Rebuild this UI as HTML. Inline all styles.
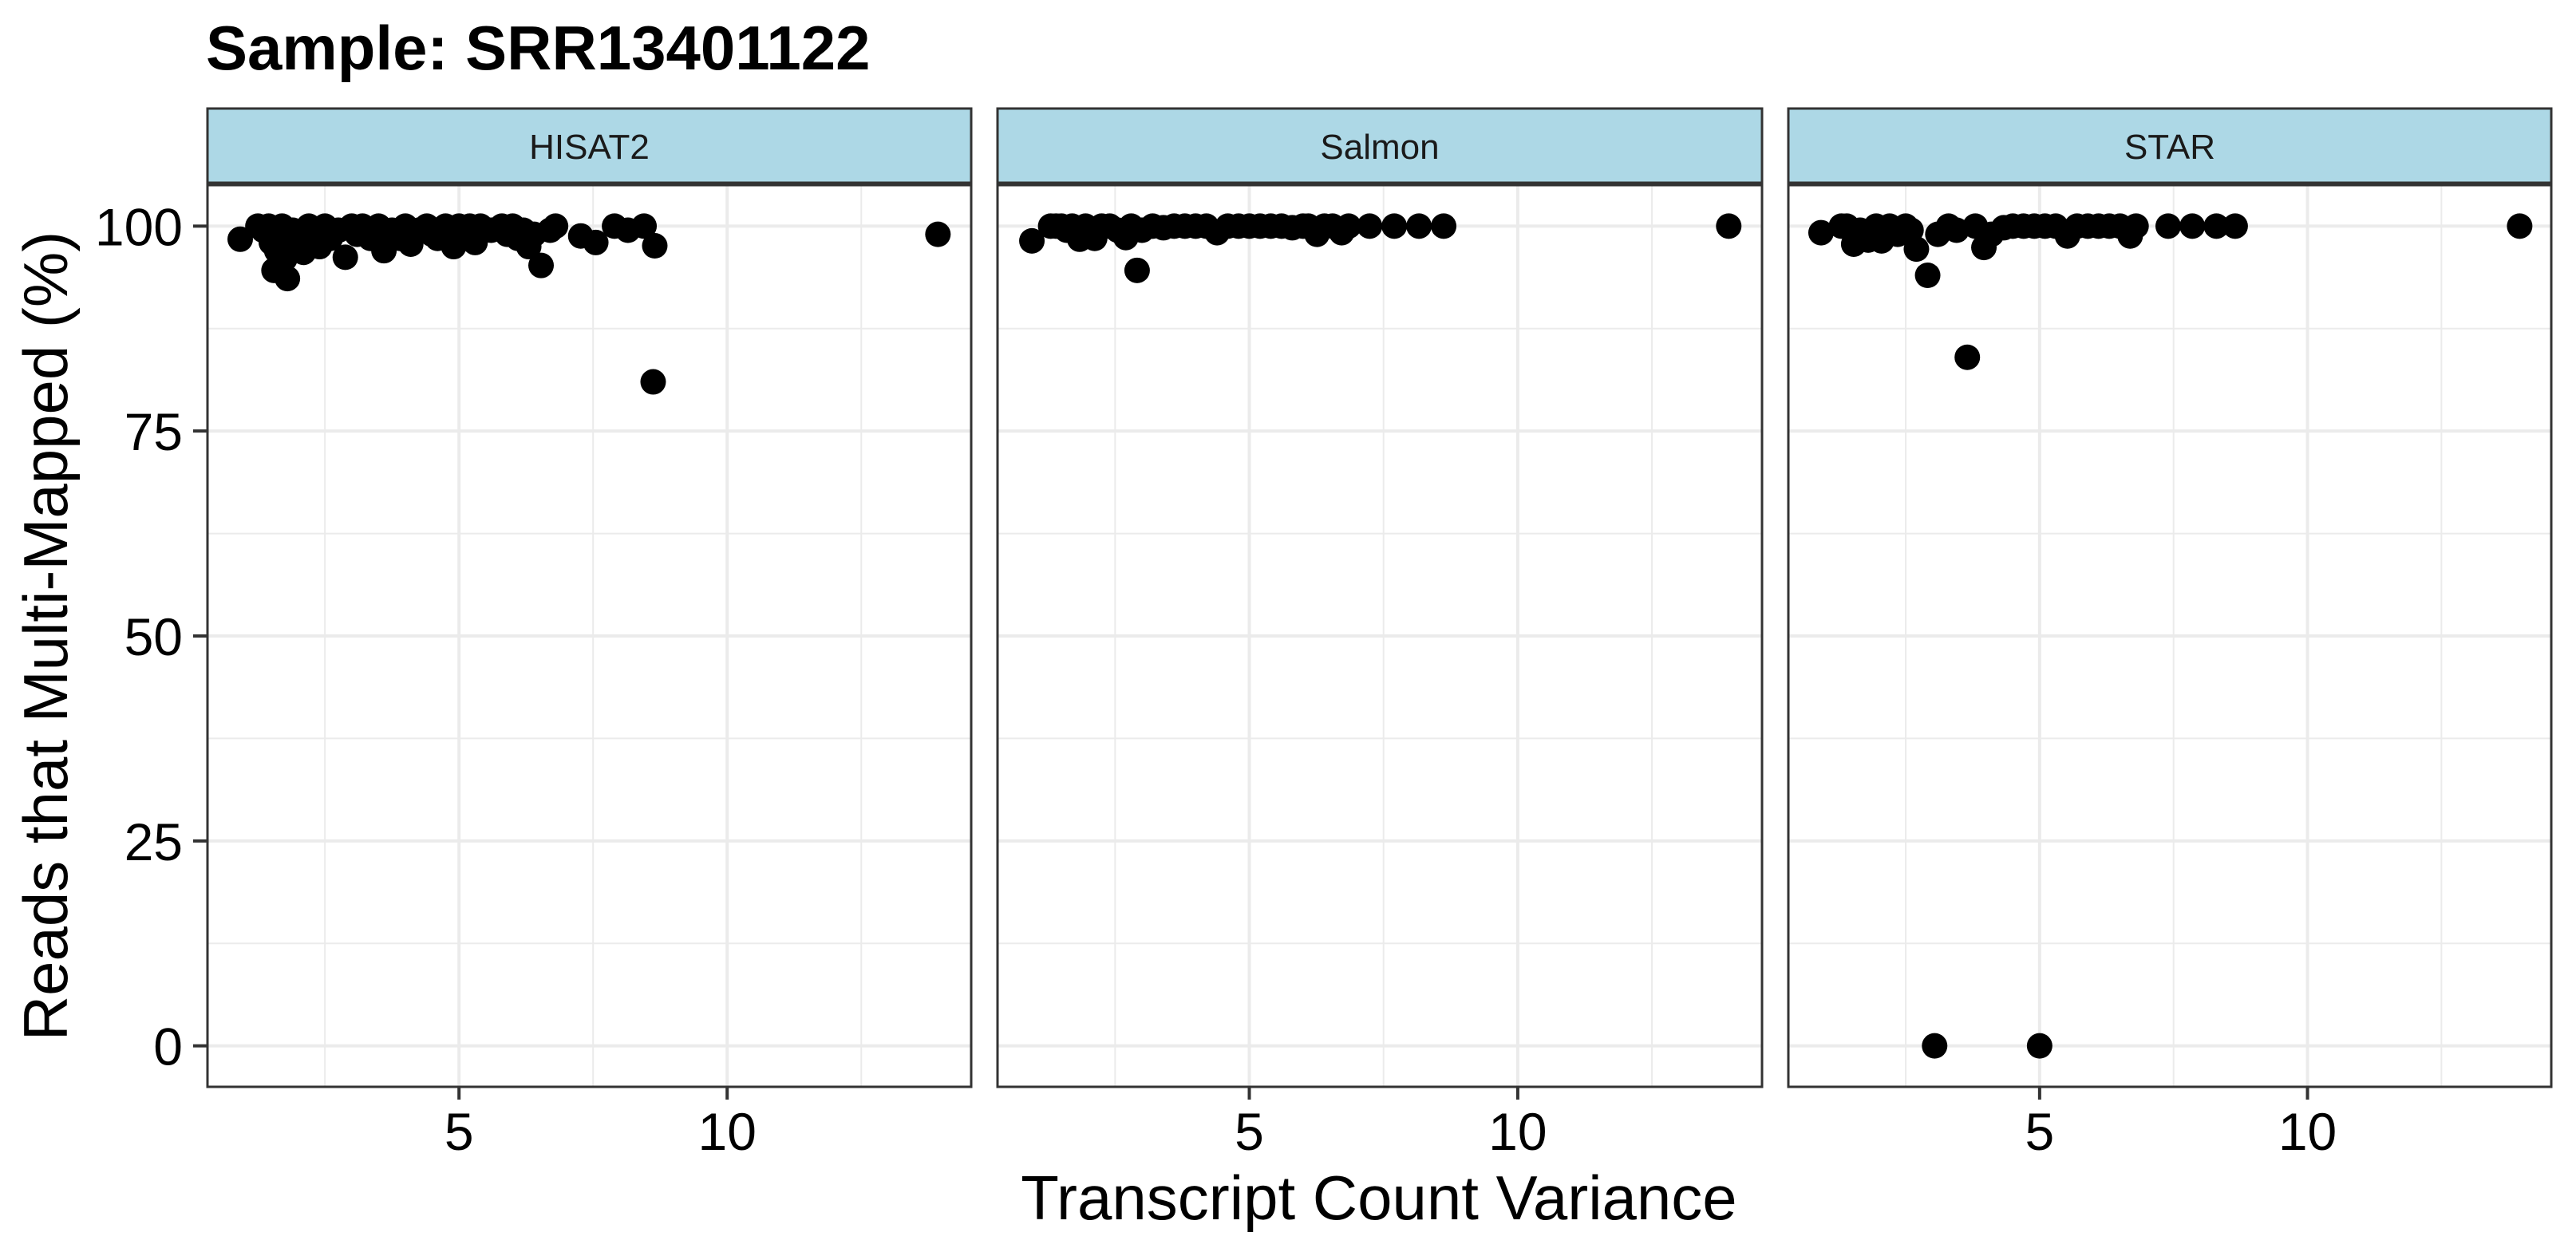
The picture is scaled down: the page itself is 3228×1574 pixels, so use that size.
<!DOCTYPE html>
<html><head><meta charset="utf-8"><style>
html,body{margin:0;padding:0;background:#fff;}
svg{display:block;font-family:"Liberation Sans",Arial,sans-serif;}
</style></head><body>
<svg id="chart" width="3228" height="1574" viewBox="0 0 3228 1574" xmlns="http://www.w3.org/2000/svg">
<text x="258" y="87" font-size="78" font-weight="bold" fill="#000">Sample: SRR13401122</text>
<g id="panels"></g>
<text x="1728" y="1528" font-size="78" text-anchor="middle" fill="#000">Transcript Count Variance</text>
<text transform="translate(84,797) rotate(-90)" font-size="78" text-anchor="middle" fill="#000">Reads that Multi-Mapped (%)</text>
</svg>
<script>
const facets = ["HISAT2","Salmon","STAR"];
const hisatX = [0.92,1.25,1.35,1.45,1.5,1.55,1.6,1.65,1.7,1.75,1.8,1.9,2.0,2.1,2.2,2.3,2.4,2.5,2.6,2.75,2.88,3.0,3.1,3.2,3.35,3.5,3.6,3.75,3.9,4.0,4.1,4.25,4.4,4.5,4.6,4.75,4.9,5.0,5.1,5.2,5.3,5.4,5.6,5.8,5.9,6.0,6.1,6.2,6.3,6.4,6.53,6.7,6.8,7.27,7.55,7.9,8.15,8.45,8.62,8.65,13.93];
const hisatY = [98.4,100,99.5,100,98,94.6,97,99,100,96,93.6,99.5,98,96.8,100,99,97.5,100,98.5,99.5,96.2,100,99,100,98.5,100,97,99.5,98.5,100,97.8,99.5,100,99,98.5,100,97.5,100,99,100,98,100,99.5,100,99,100,98.5,99.5,97.5,99,95.2,99.5,100,98.8,98,100,99.5,100,81,97.6,99];
const salmonX = [0.95,1.3,1.4,1.5,1.6,1.7,1.84,1.95,2.05,2.12,2.25,2.4,2.55,2.7,2.8,2.91,3.0,3.2,3.4,3.6,3.8,4.0,4.2,4.4,4.6,4.8,5.0,5.2,5.4,5.6,5.8,6.0,6.1,6.26,6.4,6.55,6.72,6.85,7.24,7.7,8.16,8.62,13.93];
const salmonY = [98.2,100,100,100,99.5,100,98.4,100,99.5,98.5,100,100,99.5,98.6,100,94.6,99.5,100,99.8,100,100,100,100,99.2,100,100,100,100,100,100,99.8,100,100,99,100,100,99.2,100,100,100,100,100,100];
const starX = [0.92,1.3,1.4,1.53,1.65,1.8,1.95,2.05,2.2,2.35,2.5,2.6,2.7,2.91,3.04,3.1,3.3,3.45,3.65,3.8,3.96,4.1,4.33,4.5,4.7,4.9,5.0,5.1,5.3,5.52,5.7,5.9,6.1,6.3,6.5,6.69,6.8,7.4,7.85,8.3,8.65,13.96];
const starY = [99.2,100,100,97.8,99.5,98.3,100,98.2,100,99,100,99.5,97.2,94,0,99,100,99.5,84,100,97.4,99,99.8,100,100,100,0,100,100,98.8,100,100,100,100,100,98.8,100,100,100,100,100,100];
const xTicks = [5,10];
const xMinor = [2.5,7.5,12.5];
const yTicks = [0,25,50,75,100];
const yMinor = [12.5,37.5,62.5,87.5];

const NS = "http://www.w3.org/2000/svg";
const panelsX = [[260,1217],[1250,2208],[2241,3197]];
const pTop = 232, pBot = 1362;
const xDom = [0.31,14.55], yDom = [-5,105];
function sx(v,i){const [a,b]=panelsX[i];return a+(v-xDom[0])/(xDom[1]-xDom[0])*(b-a);}
function sy(v){return pBot-(v-yDom[0])/(yDom[1]-yDom[0])*(pBot-pTop);}
function mk(tag,attrs,parent){const e=document.createElementNS(NS,tag);for(const k in attrs)e.setAttribute(k,attrs[k]);parent.appendChild(e);return e;}
const root = document.getElementById('panels');
const allX=[hisatX,salmonX,starX], allY=[hisatY,salmonY,starY];
facets.forEach((name,i)=>{
  const [L,R]=panelsX[i];
  const g=mk('g',{},root);
  
  
  const bg=mk('rect',{x:L,y:pTop,width:R-L,height:pBot-pTop,fill:'#fff'},g);
  
  
  yMinor.forEach(v=>{const l=mk('line',{x1:L,x2:R,y1:sy(v),y2:sy(v),stroke:'#ebebeb','stroke-width':2},g);
    });
  xMinor.forEach(v=>{const l=mk('line',{x1:sx(v,i),x2:sx(v,i),y1:pTop,y2:pBot,stroke:'#ebebeb','stroke-width':2},g);
    });
  yTicks.forEach(v=>{const l=mk('line',{x1:L,x2:R,y1:sy(v),y2:sy(v),stroke:'#ebebeb','stroke-width':4},g);
    });
  xTicks.forEach(v=>{const l=mk('line',{x1:sx(v,i),x2:sx(v,i),y1:pTop,y2:pBot,stroke:'#ebebeb','stroke-width':4},g);
    
    const t=mk('line',{x1:sx(v,i),x2:sx(v,i),y1:pBot,y2:pBot+16,stroke:'#333','stroke-width':4},g);
    
    const tx=mk('text',{x:sx(v,i),y:1441,'font-size':66,'text-anchor':'middle',fill:'#000'},g);
    tx.textContent=v;
    });
  const xs=allX[i], ys=allY[i];
  for(let k=0;k<Math.min(xs.length,ys.length);k++){
    const c=mk('circle',{cx:sx(xs[k],i),cy:sy(ys[k]),r:16,fill:'#000'},g);
    
    
  }
  const bd=mk('rect',{x:L,y:pTop,width:R-L,height:pBot-pTop,fill:'none',stroke:'#333','stroke-width':3},g);
  
  const st=mk('rect',{x:L,y:136,width:R-L,height:93,fill:'#add8e6',stroke:'#333','stroke-width':3},g);
  
  const stt=mk('text',{x:(L+R)/2,y:199,'font-size':44,'text-anchor':'middle',fill:'#1a1a1a'},g);
  stt.textContent=name;
  
  if(i===0){
    yTicks.forEach(v=>{
      const t=mk('line',{x1:242,x2:L,y1:sy(v),y2:sy(v),stroke:'#333','stroke-width':4},root);
      
      const tx=mk('text',{x:229,y:sy(v)+24,'font-size':66,'text-anchor':'end',fill:'#000'},root);
      tx.textContent=v;
      
    });
  }
});
</script>
</body></html>
